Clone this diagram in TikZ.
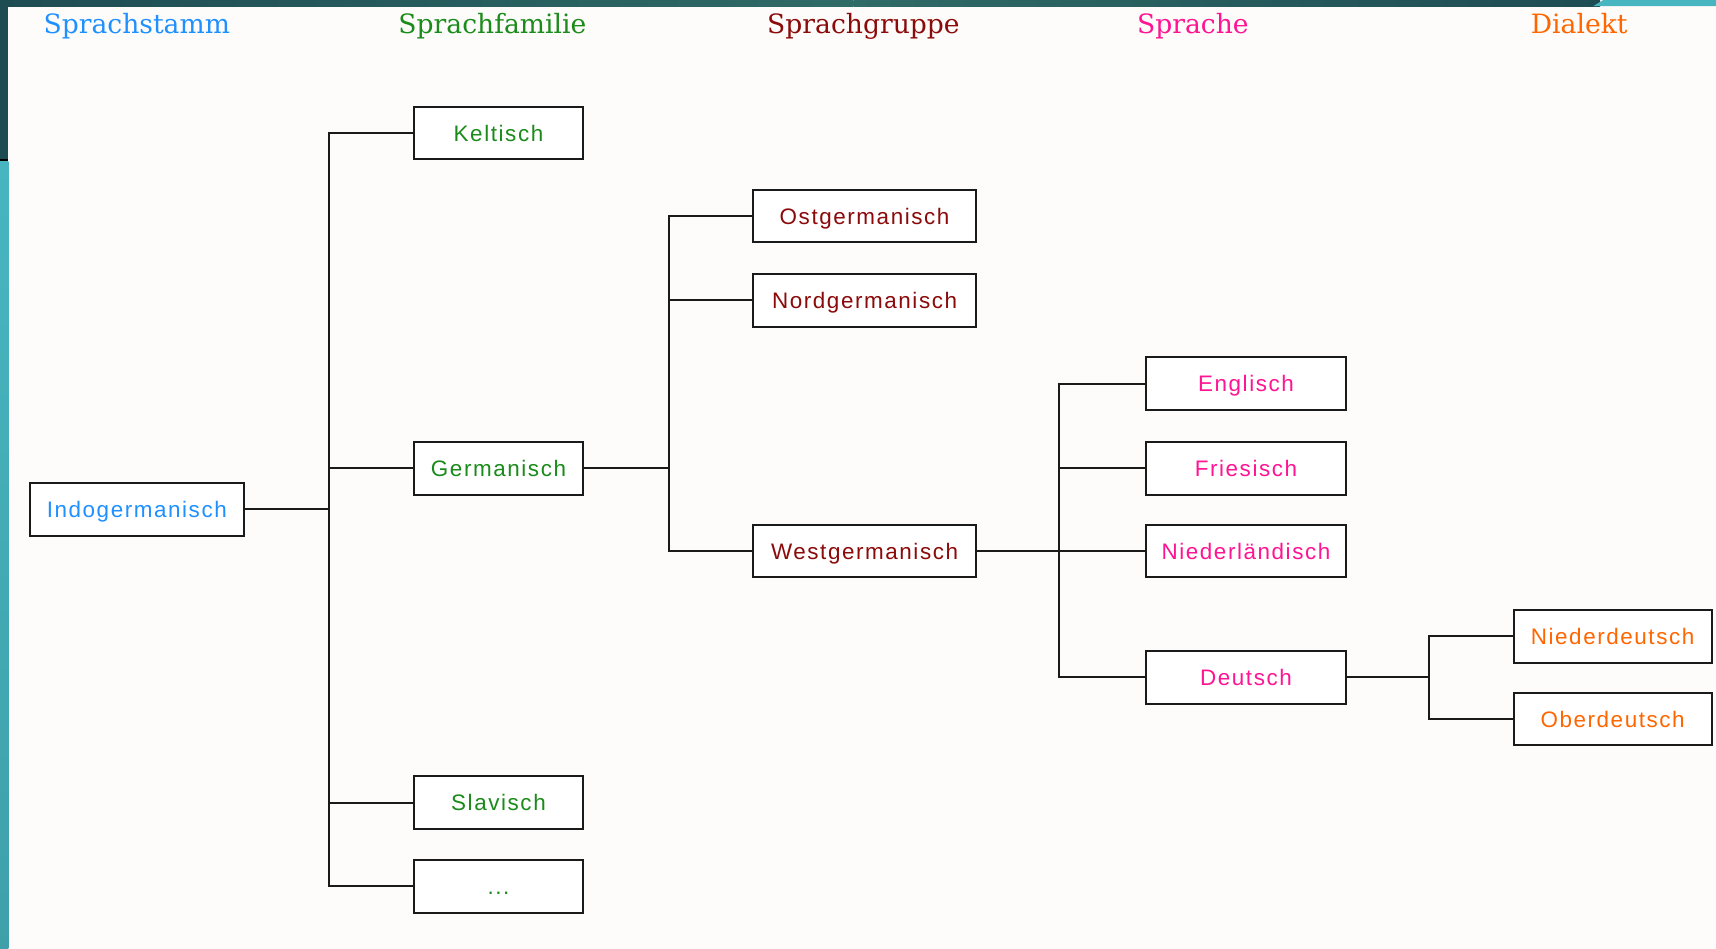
\documentclass[tikz,border=0pt]{standalone}
\usepackage{fontspec}
\setmainfont{Liberation Sans}
\newfontfamily\headfont{DejaVu Serif}
\newfontfamily\boxfont[LetterSpace=7]{Liberation Sans}
\definecolor{cblue}{HTML}{1E90FF}
\definecolor{cgreen}{HTML}{1B8B1B}
\definecolor{cred}{HTML}{8B0A0A}
\definecolor{cpink}{HTML}{FF1493}
\definecolor{corange}{HTML}{FF6600}
\definecolor{bgwhite}{HTML}{FDFCFA}
\definecolor{tealdark}{HTML}{1E4C53}
\definecolor{tealmid}{HTML}{2F6B67}
\definecolor{cyanband}{HTML}{47B6C1}
\definecolor{linec}{HTML}{1A1A1A}
\tikzset{
  box/.style={draw=linec, line width=1.8pt, fill=white, inner sep=0pt,
    minimum height=48pt, text height=14.8pt, text depth=0pt,
    font=\boxfont\fontsize{20.5}{23}\selectfont},
  wA/.style={minimum width=196pt},
  wB/.style={minimum width=155pt},
  wC/.style={minimum width=204pt},
  wD/.style={minimum width=183pt},
  wE/.style={minimum width=181pt},
  head/.style={anchor=base, font=\headfont\fontsize{24.3}{28}\selectfont},
  conn/.style={draw=linec, line width=1.8pt},
}
\begin{document}
\begin{tikzpicture}[x=1pt,y=-1pt]
\useasboundingbox (0,0) rectangle (1568,867);
% background
\fill[bgwhite] (0,0) rectangle (1568,867);
\shade[left color=tealdark, right color=tealmid] (0,0) rectangle (780,5.5);
\shade[left color=tealmid, right color=tealdark] (780,0) rectangle (1462,5.5);
\fill[cyanband] (1456,5.5) -- (1465,0) -- (1568,0) -- (1568,5.5) -- cycle;
\fill[tealdark] (0,0) rectangle (7.7,145);
\fill[black] (0,145) rectangle (7.7,147.5);
\shade[top color=cyanband, bottom color=cyanband!88!black] (0,147.5) rectangle (7.7,867);
% headers
\node[head, text=cblue]   (h1) at (125,30.5) {Sprachstamm};
\node[head, text=cgreen]  (h2) at (450,30.5) {Sprachfamilie};
\node[head, text=cred]    (h3) at (789,30.5) {Sprachgruppe};
\node[head, text=cpink]   (h4) at (1090,30.5) {Sprache};
\node[head, text=corange] (h5) at (1443,30.5) {Dialekt};
% boxes
\node[box, wA, text=cblue] (indo) at (125,465.5) {Indogermanisch};
\node[box, wB, text=cgreen] (kelt) at (455.5,121.5) {Keltisch};
\node[box, wB, text=cgreen] (germ) at (455.5,428) {Germanisch};
\node[box, wB, text=cgreen] (slav) at (455.5,733.5) {Slavisch};
\node[box, wB, text=cgreen] (etc)  at (455.5,810) {...};
\node[box, wC, text=cred] (ost)  at (790,197.5) {Ostgermanisch};
\node[box, wC, text=cred] (nord) at (790,274.5) {Nordgermanisch};
\node[box, wC, text=cred] (west) at (790,503.5) {Westgermanisch};
\node[box, wD, text=cpink] (engl) at (1138.5,350.5) {Englisch};
\node[box, wD, text=cpink] (fries) at (1138.5,428) {Friesisch};
\node[box, wD, text=cpink] (nl)   at (1138.5,503.5) {Niederländisch};
\node[box, wD, text=cpink] (deu)  at (1138.5,619) {Deutsch};
\node[box, wE, text=corange] (nd) at (1473.5,581.5) {Niederdeutsch};
\node[box, wE, text=corange] (od) at (1473.5,657) {Oberdeutsch};
% bus coordinates
\coordinate (b1) at (301,465.5);
\coordinate (b2) at (611,428);
\coordinate (b3) at (968,503.5);
\coordinate (b4) at (1306,619);
% connectors
\draw[conn] (indo.east) -- (b1);
\foreach \c in {kelt,germ,slav,etc} \draw[conn] (b1) |- (\c.west);
\draw[conn] (germ.east) -- (b2);
\foreach \c in {ost,nord,west} \draw[conn] (b2) |- (\c.west);
\draw[conn] (west.east) -- (b3);
\foreach \c in {engl,fries,nl,deu} \draw[conn] (b3) |- (\c.west);
\draw[conn] (deu.east) -- (b4);
\foreach \c in {nd,od} \draw[conn] (b4) |- (\c.west);
\end{tikzpicture}
\end{document}
